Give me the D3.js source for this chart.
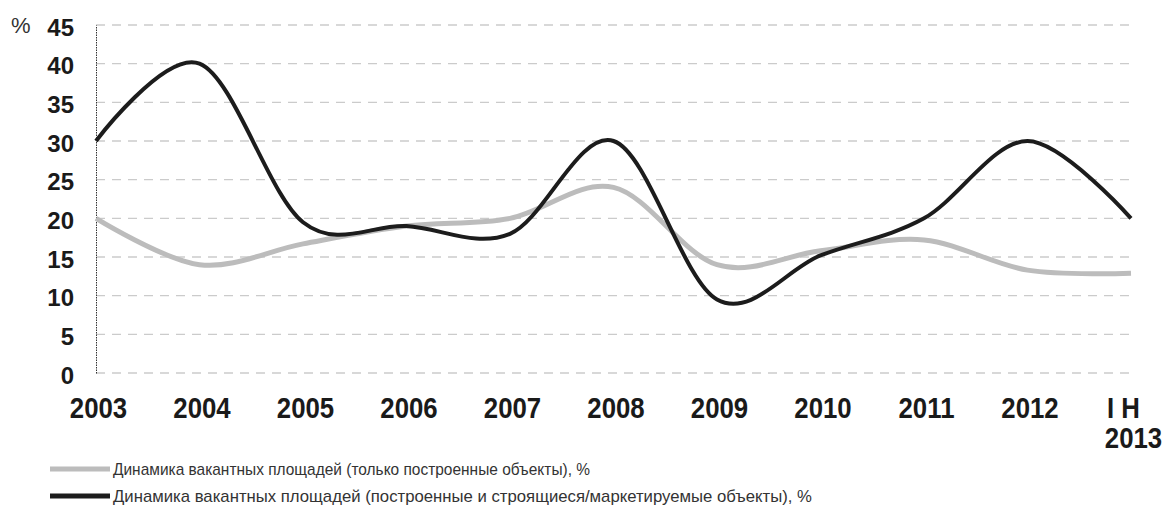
<!DOCTYPE html>
<html>
<head>
<meta charset="utf-8">
<script src="https://cdn.jsdelivr.net/npm/d3@7/dist/d3.min.js"></script>
<style>
  html, body { margin: 0; padding: 0; background: #ffffff; }
  svg { display: block; }
</style>
</head>
<body>
<svg id="chart" width="1172" height="514"></svg>
<script>
// Периоды по оси X
const periods = ["2003", "2004", "2005", "2006", "2007", "2008", "2009", "2010", "2011", "2012", "I H\n2013"];

// Доля вакантных площадей, %: только построенные объекты
const builtOnly = [20, 14, 16.7, 19, 20, 24, 14, 15.8, 17.2, 13.3, 12.9];

// Доля вакантных площадей, %: построенные и строящиеся/маркетируемые объекты
const builtAndPlanned = [30, 40, 19.5, 19, 18, 30, 9.5, 15.2, 20, 30, 20];

// Деления оси Y
const yTicks = [0, 5, 10, 15, 20, 25, 30, 35, 40, 45];

// Подписи легенды
const legendLabels = [
  "Динамика вакантных площадей (только построенные объекты), %",
  "Динамика вакантных площадей (построенные и строящиеся/маркетируемые объекты), %"
];

const svg = d3.select("#chart");

const plot = { left: 96, right: 1131, top: 25, bottom: 373 };

const x = d3.scalePoint()
  .domain(periods)
  .range([plot.left, plot.right]);

const y = d3.scaleLinear()
  .domain([0, 45])
  .range([plot.bottom, plot.top]);

const sans = "'Liberation Sans', Arial, sans-serif";

// Пунктирная сетка
svg.append("g")
  .selectAll("line")
  .data(yTicks)
  .join("line")
  .attr("x1", plot.left)
  .attr("x2", plot.right + 2)
  .attr("y1", d => y(d))
  .attr("y2", d => y(d))
  .attr("stroke", "#cbcbcb")
  .attr("stroke-width", 1.3)
  .attr("stroke-dasharray", "9,7");

// Ось Y
const yAxis = svg.append("g")
  .attr("transform", `translate(${plot.left},0)`)
  .call(d3.axisLeft(y).tickValues(yTicks).tickSize(0).tickPadding(22));
yAxis.select(".domain")
  .attr("stroke", "#333")
  .attr("stroke-width", 1)
  .attr("stroke-dasharray", "1.5,1");
yAxis.selectAll("text")
  .attr("font-family", sans)
  .attr("font-weight", "bold")
  .attr("font-size", 24)
  .attr("fill", "#1a1a1a")
  .attr("dy", "0.42em");

// Знак процента над осью
svg.append("text")
  .attr("x", 11)
  .attr("y", 33)
  .attr("font-family", sans)
  .attr("font-size", 22)
  .attr("fill", "#333")
  .text("%");

// Ось X (подписи периодов, сжатые по ширине)
const xAxis = svg.append("g")
  .attr("transform", `translate(0,${plot.bottom})`)
  .call(d3.axisBottom(x).tickSize(0).tickPadding(0));
xAxis.select(".domain").remove();
xAxis.selectAll(".tick text").each(function (d) {
  const t = d3.select(this);
  const lines = d.split("\n");
  t.text(null)
    .attr("y", 0)
    .attr("dy", null)
    .attr("font-family", sans)
    .attr("font-weight", "bold")
    .attr("font-size", 30)
    .attr("fill", "#1a1a1a")
    .attr("transform", "scale(0.86,1)");
  lines.forEach((ln, i) => {
    t.append("tspan")
      .attr("x", (i === 0 && lines.length > 1 ? -8 : 2) / 0.86)
      .attr("y", 45 + i * 30.5)
      .text(ln);
  });
});

// Линии рядов (сглаженные)
const line = d3.line()
  .x((d, i) => x(periods[i]))
  .y(d => y(d))
  .curve(d3.curveCardinal.tension(0));

svg.append("path")
  .datum(builtOnly)
  .attr("d", line)
  .attr("fill", "none")
  .attr("stroke", "#bcbcbc")
  .attr("stroke-width", 5)
  .attr("stroke-linecap", "butt");

svg.append("path")
  .datum(builtAndPlanned)
  .attr("d", line)
  .attr("fill", "none")
  .attr("stroke", "#1c1c1c")
  .attr("stroke-width", 4)
  .attr("stroke-linecap", "butt");

// Легенда
const legendColors = ["#bcbcbc", "#1c1c1c"];
const legendTextLen = [477, 699];
const legend = svg.append("g");
legendLabels.forEach((lbl, i) => {
  const cy = 469 + i * 27;
  legend.append("line")
    .attr("x1", 50).attr("x2", 110)
    .attr("y1", cy).attr("y2", cy)
    .attr("stroke", legendColors[i])
    .attr("stroke-width", 5);
  legend.append("text")
    .attr("x", 113)
    .attr("y", cy + 6)
    .attr("font-family", sans)
    .attr("font-size", 17)
    .attr("fill", "#333")
    .attr("textLength", legendTextLen[i])
    .attr("lengthAdjust", "spacingAndGlyphs")
    .text(lbl);
});
</script>
</body>
</html>
